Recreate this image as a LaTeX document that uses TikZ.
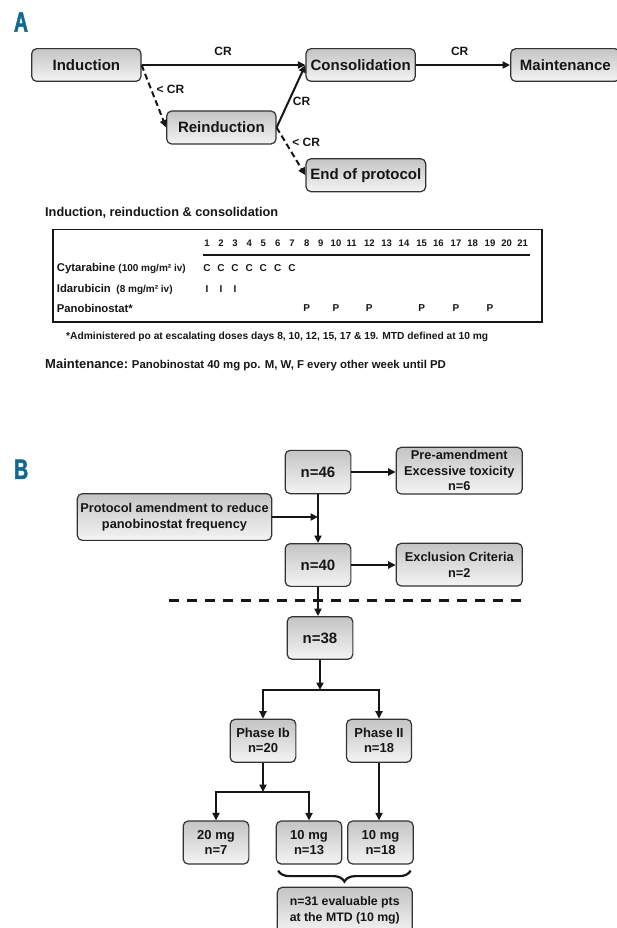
\documentclass[tikz,border=0pt]{standalone}
\usepackage{fontspec}
\setmainfont{Liberation Sans}
\newfontfamily\panelfont[FakeBold=2]{Liberation Sans Bold}
\usetikzlibrary{arrows.meta,decorations.pathreplacing,calc}
\definecolor{panelblue}{RGB}{18,104,145}
\definecolor{boxtop}{HTML}{C4C4C4}
\definecolor{boxbot}{HTML}{F4F4F4}
\definecolor{boxline}{HTML}{333333}
\definecolor{ink}{HTML}{161616}
\newlength\fitlen
\newcommand\fitto[2]{\settowidth\fitlen{\fontsize{10}{12}\selectfont #2}\pgfmathsetmacro\fitsz{10*#1/\fitlen}\fontsize{\fitsz}{\fitsz}\selectfont #2}
\def\dayxlist{207,221,235,249.3,263.3,277.7,292,306.7,320.7,336,351.7,369.3,386.7,404,421.7,438.3,456,472.7,490,506.7,522.7}
\begin{document}
\begin{tikzpicture}[x=1pt,y=-1pt,font=\bfseries,text=ink,
  box/.style={draw=boxline,line width=1.2pt,rounded corners=5pt,top color=boxtop,bottom color=boxbot,inner sep=0pt,align=center,text=ink},
  bigbox/.style={box,font=\fontsize{15}{18}\selectfont\bfseries},
  midbox/.style={box,font=\fontsize{12.8}{15.6}\selectfont\bfseries},
  smallbox/.style={box,font=\fontsize{13}{15}\selectfont\bfseries},
  arr/.style={-{Triangle[length=7.5pt,width=7pt]},line width=2pt,draw=ink},
  dasharr/.style={arr,dash pattern=on 6pt off 3.5pt},
  lbl/.style={font=\fontsize{12}{14}\selectfont\bfseries,inner sep=0pt},
  panel/.style={text=panelblue,font=\fontsize{28}{30}\panelfont,inner sep=0pt},
  dayf/.style={font=\fontsize{9.5}{11}\selectfont\bfseries,inner sep=0pt},
  cellf/.style={font=\fontsize{10}{12}\selectfont\bfseries,inner sep=0pt},
  rowf/.style={anchor=west,inner sep=0pt,font=\fontsize{11.3}{13}\selectfont\bfseries},
  plain/.style={inner sep=0pt,anchor=west}]
\useasboundingbox (0,0) rectangle (616,928);

% ---------- Panel A ----------
\node[panel] (labA) at (21,22) {\scalebox{0.7}[1]{A}};
\node[bigbox,minimum width=109.3pt,minimum height=32.7pt] (ind) at (86.35,65) {Induction};
\node[bigbox,minimum width=109.3pt,minimum height=32.7pt] (cons) at (360.65,65) {Consolidation};
\node[bigbox,minimum width=109.3pt,minimum height=32.7pt] (maint) at (565.35,65) {Maintenance};
\node[bigbox,minimum width=109.3pt,minimum height=33pt] (rei) at (221.35,127.5) {Reinduction};
\node[bigbox,minimum width=119.7pt,minimum height=33pt] (eop) at (365.85,175.2) {End of protocol};

\draw[arr] (ind.east) -- (cons.west);
\draw[arr] (cons.east) -- (maint.west);
\draw[dasharr] (ind.east) -- (rei.west);
\draw[arr] (rei.east) -- (cons.west);
\draw[dasharr] (rei.east) -- (eop.west);

\node[lbl] (cr1) at (223,51.7) {CR};
\node[lbl] (cr2) at (459.7,51.7) {CR};
\node[lbl] (lcr1) at (170.5,89.3) {< CR};
\node[lbl] (cr3) at (301.5,101.7) {CR};
\node[lbl] (lcr2) at (306.2,142.7) {< CR};

% ---------- Table ----------
\node[plain] (ttitle) at (45,213.3) {\fitto{233}{Induction, reinduction \& consolidation}};
\draw[line width=1.6pt,draw=ink] (52.7,229.3) rectangle (542,321.7);
\foreach \x [count=\i] in \dayxlist { \node[dayf] (d\i) at (\x,243) {\i}; }
\draw[line width=1.1pt,draw=ink] (203,255) -- (530,255);

\node[rowf] (rcyt) at (56.7,268.3) {Cytarabine {\fontsize{10}{12}\selectfont(100 mg/m² iv)}};
\node[rowf] (rida) at (56.7,289.3) {Idarubicin\hspace{5.6pt}{\fontsize{10}{12}\selectfont(8 mg/m² iv)}};
\node[rowf] (rpan) at (56.7,308.3) {Panobinostat*};
\coordinate (ycyt) at (0,268.3);
\coordinate (yida) at (0,289.3);
\coordinate (ypan) at (0,308.3);
\foreach \i in {1,...,7} { \node[cellf] (c\i) at (d\i |- ycyt) {C}; }
\foreach \i in {1,2,3} { \node[cellf] (id\i) at (d\i |- yida) {I}; }
\foreach \i in {8,10,12,15,17,19} { \node[cellf] (p\i) at (d\i |- ypan) {P}; }

\node[plain] (foot) at (66,336.7) {\fitto{422}{*Administered po at escalating doses days 8, 10, 12, 15, 17 \& 19. MTD defined at 10 mg}};
\node[plain] (maintline) at (45,365) {{\fontsize{13}{15}\selectfont Maintenance:} {\fontsize{11.4}{13}\selectfont Panobinostat 40 mg po. M, W, F every other week until PD}};

% ---------- Panel B ----------
\node[panel] (labB) at (21.2,469.3) {\scalebox{0.7}[1]{B}};
\node[bigbox,minimum width=65.7pt,minimum height=43.3pt] (n46) at (318,472) {n=46};
\node[midbox,minimum width=126pt,minimum height=46.7pt] (pre) at (459.3,470.65) {Pre-amendment\\Excessive toxicity\\n=6};
\node[midbox,minimum width=194.4pt,minimum height=46.7pt] (prot) at (174.5,517) {Protocol amendment to reduce\\panobinostat frequency};
\node[bigbox,minimum width=65.7pt,minimum height=42.7pt] (n40) at (318,565) {n=40};
\node[midbox,minimum width=126pt,minimum height=42.7pt] (excl) at (459.3,564.65) {Exclusion Criteria\\n=2};
\node[bigbox,minimum width=65.7pt,minimum height=42.6pt] (n38) at (320,638) {n=38};
\node[smallbox,minimum width=65.7pt,minimum height=43pt] (ph1) at (263,740.8) {Phase Ib\\n=20};
\node[smallbox,minimum width=65pt,minimum height=43pt] (ph2) at (379,740.8) {Phase II\\n=18};
\node[smallbox,minimum width=65.7pt,minimum height=43pt] (m20) at (216,842.5) {20 mg\\n=7};
\node[smallbox,minimum width=65.6pt,minimum height=43pt] (m13) at (309,842.5) {10 mg\\n=13};
\node[smallbox,minimum width=65.6pt,minimum height=43pt] (m18) at (380.5,842.5) {10 mg\\n=18};
\node[box,font=\fontsize{12.3}{15.6}\selectfont\bfseries,minimum width=135pt,minimum height=46.4pt] (n31) at (344.8,910.5) {n=31 evaluable pts\\at the MTD (10 mg)};

\draw[arr] (n46.east) -- (n46.east -| pre.west);
\draw[arr] (n46.south) -- (n40.north);
\draw[arr] (prot.east) -- (prot.east -| n46.south);
\draw[arr] (n40.east) -- (n40.east -| excl.west);
\coordinate (dl1) at (169.3,600);
\coordinate (dl2) at (520.7,600);
\draw[line width=3pt,dash pattern=on 10pt off 8pt,draw=ink] (dl1) -- (dl2);
\draw[arr] (n40.south) -- (n40.south |- n38.north);

\coordinate (j1) at ($(n38.south |- 0,690)$);
\draw[arr] (n38.south) -- (j1);
\draw[arr] (j1) -| (ph1.north);
\draw[arr] (j1) -| (ph2.north);
\coordinate (j2) at ($(ph1.south |- 0,792)$);
\draw[arr] (ph1.south) -- (j2);
\draw[arr] (j2) -| (m20.north);
\draw[arr] (j2) -| (m13.north);
\draw[arr] (ph2.south) -- (ph2.south |- m18.north);

\coordinate (br1) at ($(m13.south west)+(2.6,6)$);
\coordinate (br2) at ($(m18.south east)+(-3.3,6)$);
\draw[line width=2.2pt,draw=ink,decorate,decoration={brace,amplitude=11pt,mirror}] (br1) -- (br2);
\end{tikzpicture}
\end{document}
